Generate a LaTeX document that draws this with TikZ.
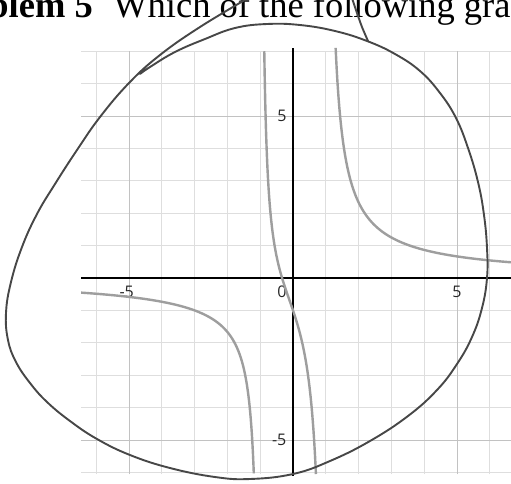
\documentclass[tikz,border=0pt]{standalone}
\usepackage{fontspec}
\setmainfont{Liberation Serif}
\newfontfamily\labfont{Open Sans}
\begin{document}
\begin{tikzpicture}[x=1pt,y=-1pt,
  gridline/.style={draw=black!13, line width=0.8pt},
  gridmajor/.style={draw=black!24, line width=1pt},
  axisline/.style={draw=black, line width=1.3pt},
  fcurve/.style={draw=black!38, line width=2.4pt},
  loopline/.style={draw=black!72, line width=1.9pt, line cap=round, line join=round},
  lab/.style={font=\labfont\fontsize{16}{16}\selectfont, inner sep=0pt, text=black!85},
  title/.style={font=\fontsize{36.5}{40}\selectfont, inner sep=0pt}]
\useasboundingbox (0,0) rectangle (511,483);
\clip (0,0) rectangle (511,483);
\fill[white] (0,0) rectangle (511,483);
% title
\node[title, anchor=base east] (tl) at (93,17) {\bfseries blem 5};
\node[title, anchor=base west] (tr) at (113,17) {Which of the following gra};
% graph
\begin{scope}[shift={(293,278)}, x=32.8pt, y=32.4pt]
  \foreach \i in {-6,...,6} {
    \draw[gridline] (\i,-6.05) -- (\i,7);
  }
  \foreach \j in {-6,...,7} {
    \draw[gridline] (-6.46,\j) -- (6.7,\j);
  }
  \foreach \i in {-5,5} {
    \draw[gridmajor] (\i,-6.05) -- (\i,7);
    \draw[gridmajor] (-6.46,\i) -- (6.7,\i);
  }
  \draw[axisline] (-6.46,0) -- (6.7,0);
  \draw[axisline] (0,-6.1) -- (0,7.1);
  \node[lab] (ly5) at (-0.34,5) {5};
  \node[lab] (lym5) at (-0.42,-5) {-5};
  \node[lab] (lxm5) at (-5.07,-0.43) {-5};
  \node[lab] (lx0) at (-0.34,-0.43) {0};
  \node[lab] (lx5) at (5,-0.43) {5};
  \draw[fcurve] plot[domain=-6.46:-1.1946, samples=600] (\x,{(3*\x+1)/(\x*\x-1)});
  \draw[fcurve] plot[domain=-0.876:0.6988, samples=600] (\x,{(3*\x+1)/(\x*\x-1)});
  \draw[fcurve] plot[domain=1.30:6.7, samples=600] (\x,{(3*\x+1)/(\x*\x-1)});
\end{scope}
% hand-drawn loop
\draw[loopline] plot[smooth, tension=0.7] coordinates {
 (250,-3) (200,27) (160,55) (129,83) (100,117) (77,150) (55,184) (37,214)
 (22,247) (11,282) (6,313) (8,340) (16,362) (30,383) (47,402) (70,421)
 (97,439) (130,455) (170,468) (215,477) (250,479) (293,474) (330,461)
 (370,441) (408,416) (437,390) (457,364) (472,337) (482,308) (487,278)
 (487,248) (484,215) (478,182) (468,148) (456,118) (440,93) (420,71)
 (395,54) (367,41) (335,31) (300,25) (267,24) (235,28) (205,39) (175,52)
 (150,67) (140,74)};
\draw[loopline] plot[smooth] coordinates {(352,-2) (357,13) (362,27) (368,41)};
\end{tikzpicture}
\end{document}
